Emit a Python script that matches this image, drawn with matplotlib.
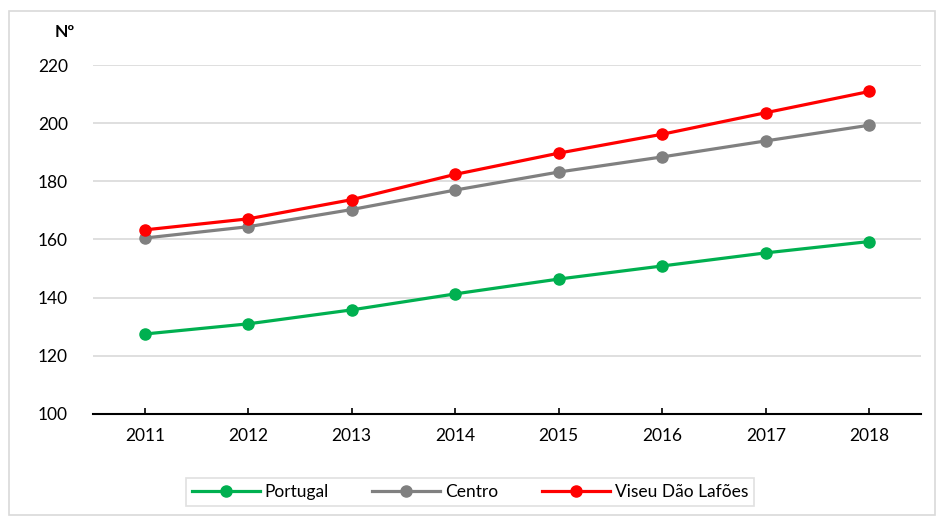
import numpy as np
import matplotlib.pyplot as plt
from matplotlib.patches import Rectangle

plt.rcParams['font.family'] = ['Lato', 'DejaVu Sans']

# dados
anos = ['2011', '2012', '2013', '2014', '2015', '2016', '2017', '2018']
portugal = [127.5, 131.0, 135.8, 141.3, 146.4, 150.9, 155.4, 159.3]
centro = [160.5, 164.4, 170.3, 177.0, 183.2, 188.4, 193.9, 199.3]
viseu = [163.3, 167.1, 173.7, 182.4, 189.7, 196.2, 203.6, 210.9]

fig = plt.figure(figsize=(9.41, 5.18), dpi=100)
ax = fig.add_axes([0.0988, 0.2008, 0.88, 0.6737])

x = np.arange(len(anos))
ax.plot(x, portugal, color='#00B050', lw=2.3, marker='o', ms=8, label='Portugal')
ax.plot(x, centro, color='#808080', lw=2.3, marker='o', ms=8, label='Centro')
ax.plot(x, viseu, color='#FF0000', lw=2.3, marker='o', ms=8, label='Viseu Dão Lafões')

ax.set_xlim(-0.5, len(anos) - 0.5)
ax.set_ylim(100, 220)
ax.set_yticks(np.arange(100, 221, 20))
ax.set_xticks(x)
ax.set_xticklabels(anos)
ax.grid(axis='y', color='#D9D9D9', lw=1.2)
ax.set_axisbelow(True)
for s in ['top', 'right', 'left']:
    ax.spines[s].set_visible(False)
ax.spines['bottom'].set_linewidth(1.5)
ax.tick_params(axis='y', length=0, labelsize=12.5, pad=18)
ax.tick_params(axis='x', direction='in', length=4, width=1.2, labelsize=12.5, pad=10)

fig.text(65 / 941, 1 - 32 / 518, 'Nº', fontsize=12.5, fontweight='bold', ha='center', va='center')

leg = ax.legend(loc='center', bbox_to_anchor=(470 / 941, 1 - 492 / 518), bbox_transform=fig.transFigure,
                ncol=3, frameon=True, fancybox=False, fontsize=12.5, handlelength=3.9,
                columnspacing=2.5, handletextpad=0.3, borderpad=0.35, borderaxespad=0)
leg.get_frame().set_edgecolor('#D9D9D9')
leg.get_frame().set_linewidth(1.2)

# borda do grafico
fig.patches.append(Rectangle((9 / 941, 3 / 518), 926 / 941, 504 / 518, transform=fig.transFigure,
                             fill=False, edgecolor='#D9D9D9', lw=1.2))

fig.savefig('out.png', dpi=100)
